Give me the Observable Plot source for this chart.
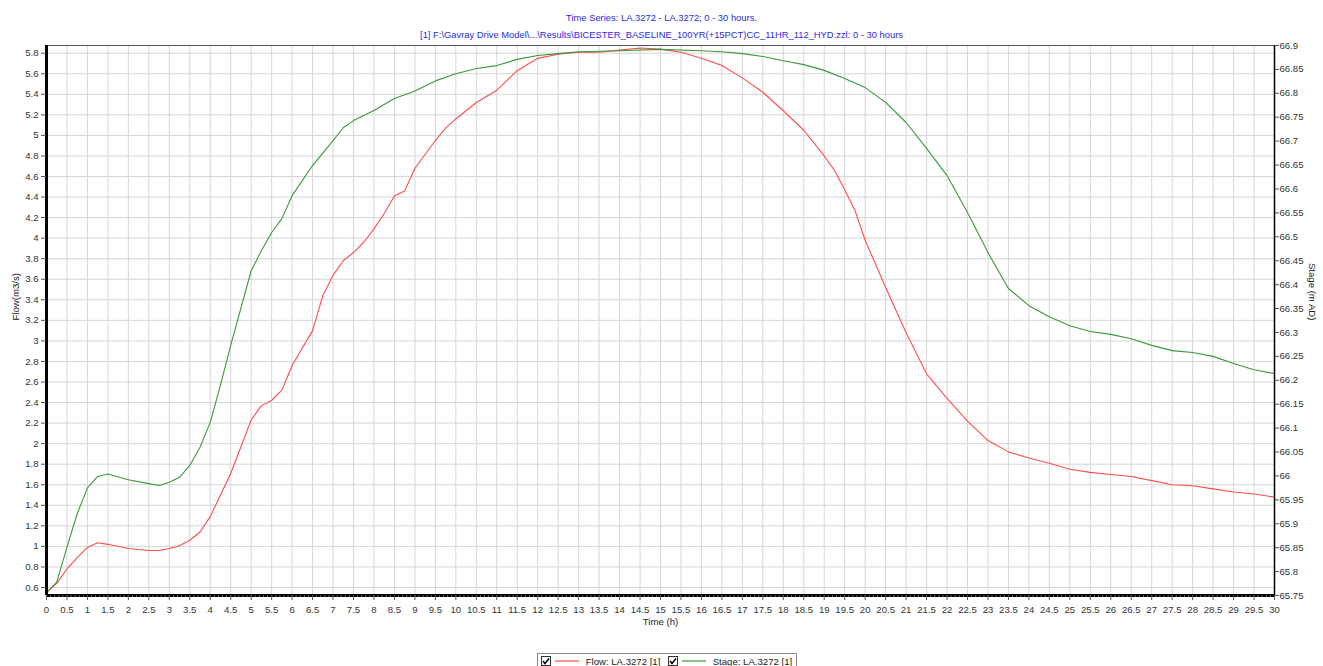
<!DOCTYPE html>
<html>
<head>
<meta charset="utf-8">
<script src="https://cdn.jsdelivr.net/npm/d3@7"></script>
<script src="https://cdn.jsdelivr.net/npm/@observablehq/plot@0.6"></script>
<style>
  html, body { margin: 0; padding: 0; background: #fff; }
  #wrap { position: relative; width: 1323px; height: 666px; overflow: hidden; font-family: "Liberation Sans", Arial, sans-serif; }
  .title { position: absolute; left: 0; width: 1323px; text-align: center; font-size: 9.4px; color: #2a2ae6; }
  #legend { position: absolute; left: 537px; top: 653px; width: 260px; height: 18px; border: 1px solid #888; box-sizing: border-box; font-size: 9.6px; color: #222; }
  #legend .it { position: absolute; top: 2px; white-space: nowrap; }
  #chart { position: absolute; left: 0; top: 0; }
</style>
</head>
<body>
<div id="wrap">
  <div class="title" style="top:12px">Time Series: LA.3272 - LA.3272; 0 - 30 hours.</div>
  <div class="title" style="top:29px">[1] F:\Gavray Drive Model\...\Results\BICESTER_BASELINE_100YR(+15PCT)CC_11HR_112_HYD.zzl: 0 - 30 hours</div>
  <div id="chart"></div>
  <div id="legend"></div>
</div>
<script>
// ---- data ----
const flowTime = [0,0.25,0.5,0.75,1,1.25,1.5,2,2.5,2.75,3,3.25,3.5,3.75,4,4.5,5,5.25,5.5,5.75,6,6.5,6.75,7,7.25,7.5,7.75,8,8.25,8.5,8.75,9,9.5,9.75,10,10.5,11,11.5,12,12.5,13,13.5,14,14.5,15,15.5,16,16.5,17,17.5,18,18.5,19,19.25,19.5,19.75,20,20.5,21,21.25,21.5,22,22.5,23,23.5,24,24.5,25,25.5,26,26.5,27,27.5,28,28.5,29,29.5,30];
const flowValue = [0.55,0.64,0.78,0.89,0.99,1.035,1.02,0.98,0.96,0.96,0.98,1.006,1.06,1.14,1.29,1.71,2.23,2.37,2.42,2.52,2.76,3.10,3.44,3.64,3.78,3.86,3.96,4.09,4.24,4.41,4.46,4.68,4.95,5.07,5.16,5.32,5.44,5.63,5.75,5.79,5.81,5.81,5.83,5.85,5.84,5.81,5.75,5.68,5.56,5.42,5.24,5.05,4.80,4.66,4.47,4.27,3.98,3.52,3.08,2.88,2.68,2.44,2.22,2.03,1.92,1.86,1.81,1.75,1.72,1.70,1.68,1.64,1.60,1.59,1.56,1.53,1.51,1.48];
const stageTime = [0,0.25,0.5,0.75,1,1.25,1.5,2,2.5,2.75,3,3.25,3.5,3.75,4,4.25,4.5,5,5.25,5.5,5.75,6,6.5,7,7.25,7.5,8,8.5,9,9.5,10,10.5,11,11.5,12,12.5,13,14,15,16,16.5,17,17.5,18,18.5,19,19.5,20,20.5,21,21.5,22,22.5,23,23.5,24,24.5,25,25.5,26,26.5,27,27.5,28,28.5,29,29.5,30];
const stageValue = [65.756,65.778,65.851,65.921,65.975,65.999,66.004,65.992,65.984,65.980,65.987,65.997,66.022,66.060,66.112,66.19,66.273,66.429,66.471,66.509,66.538,66.586,66.649,66.701,66.728,66.743,66.764,66.789,66.805,66.826,66.841,66.852,66.858,66.871,66.879,66.883,66.887,66.889,66.892,66.889,66.887,66.883,66.877,66.868,66.860,66.848,66.831,66.812,66.781,66.739,66.685,66.628,66.551,66.467,66.392,66.356,66.333,66.314,66.302,66.296,66.287,66.273,66.262,66.258,66.250,66.235,66.222,66.214];
const xTicks = d3.range(0, 61).map(i => i * 0.5);
const flowTicks = d3.range(0, 27).map(i => +(0.6 + i * 0.2).toFixed(1));
const stageTicks = d3.range(0, 24).map(i => +(65.75 + i * 0.05).toFixed(2));
const seriesNames = ["Flow: LA.3272 [1]", "Stage: LA.3272 [1]"];
const seriesColors = ["#ff4d4d", "#3a9a3a"];

// ---- scales ----
const F0 = 0.522, F1 = 5.875, S0 = 65.75, S1 = 66.9;
const toF = s => F0 + (s - S0) / (S1 - S0) * (F1 - F0);
const toS = f => S0 + (f - F0) / (F1 - F0) * (S1 - S0);

const flowData = flowTime.map((t, i) => ({t, v: flowValue[i]}));
const stageData = stageTime.map((t, i) => ({t, v: stageValue[i]}));
const fmt = d3.format("~");

const chart = Plot.plot({
  width: 1323, height: 640,
  marginTop: 45, marginLeft: 46, marginRight: 49, marginBottom: 45,
  x: {domain: [0, 30]},
  y: {domain: [F0, F1]},
  style: {fontFamily: "'Liberation Sans', Arial, sans-serif", fontSize: "9.6px", color: "#333", background: "transparent"},
  marks: [
    Plot.gridX(xTicks, {stroke: "#d6d6d6", strokeOpacity: 1}),
    Plot.gridY(flowTicks, {stroke: "#d6d6d6", strokeOpacity: 1}),
    Plot.line(flowData, {x: "t", y: "v", stroke: seriesColors[0], strokeWidth: 1.1}),
    Plot.line(stageData, {x: "t", y: d => toF(d.v), stroke: seriesColors[1], strokeWidth: 1.1}),
    Plot.frame({stroke: "#555"}),
    Plot.ruleX([0], {stroke: "#000", strokeWidth: 3}),
    Plot.ruleY([F0], {stroke: "#000", strokeWidth: 3}),
    Plot.ruleX([30], {stroke: "#000", strokeWidth: 1.5}),
    Plot.axisX(d3.range(0, 301).map(i => i / 10), {tickSize: 2, tickFormat: () => "", label: null, stroke: "#666"}),
    Plot.axisX(xTicks, {tickSize: 5, tickPadding: 6, tickFormat: fmt, label: null, stroke: "#555"}),
    Plot.axisY(flowTicks, {anchor: "left", tickSize: 5, tickPadding: 3, tickFormat: fmt, label: null, stroke: "#555"}),
    Plot.axisY(stageTicks.map(toF), {anchor: "right", tickSize: 4, tickPadding: 1, tickFormat: f => fmt(+toS(f).toFixed(2)), label: null, stroke: "#555"}),
    Plot.text(["Time (h)"], {frameAnchor: "bottom", dy: 29, fill: "#222"}),
    Plot.text(["Flow(m3/s)"], {frameAnchor: "left", dx: -31, rotate: -90, fill: "#222"}),
    Plot.text(["Stage (m AD)"], {frameAnchor: "right", dx: 38, rotate: 90, fill: "#222"})
  ]
});
document.getElementById("chart").appendChild(chart);

// ---- legend ----
const check = `<svg width="10" height="10" style="vertical-align:-1px"><rect x="0.5" y="0.5" width="9" height="9" fill="#fff" stroke="#333"/><path d="M2 5 L4 7.5 L8 2.5" fill="none" stroke="#000" stroke-width="1.5"/></svg>`;
const lg = document.getElementById("legend");
const xs = [3, 130];
seriesNames.forEach((name, i) => {
  const el = document.createElement("div");
  el.className = "it";
  el.style.left = xs[i] + "px";
  el.innerHTML = `${check}<svg width="32" height="10" style="vertical-align:-1px"><line x1="4" x2="28" y1="5" y2="5" stroke="${seriesColors[i]}" stroke-width="1.2"/></svg> ${name}`;
  lg.appendChild(el);
});
</script>
</body>
</html>
